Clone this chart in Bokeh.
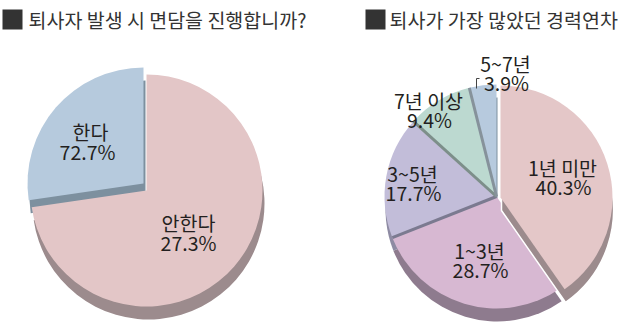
import numpy as np
from bokeh.plotting import figure
from bokeh.models import Range1d
from bokeh.core.properties import value
from bokeh.embed import file_html
from bokeh.resources import INLINE

# ---------------- data ----------------
left_title = "퇴사자 발생 시 면담을 진행합니까?"
left_categories = ["한다", "안한다"]
left_pct_labels = ["72.7%", "27.3%"]
left_shares = [27.3, 72.7]          # slice sizes as drawn in the picture

right_title = "퇴사가 가장 많았던 경력연차"
right_categories = ["1년 미만", "1~3년", "3~5년", "7년 이상", "5~7년"]
right_shares = [40.3, 28.7, 17.7, 9.4, 3.9]
right_pct_labels = ["40.3%", "28.7%", "17.7%", "9.4%", "3.9%"]

# ---------------- styles / layout ----------------
W, H = 640, 323
FONT = value("Noto Sans CJK KR")
TXT = "#231f20"

left_colors = ["#b6cadd", "#e3c6c7"]
left_shadows = ["#7d909f", "#9c8b8d"]
right_colors = ["#e4c7c8", "#d7b8d2", "#c2bdd9", "#bcd9d0", "#b7cade"]
right_shadows = ["#9c8b8d", "#8e7b8e", "#8e8ba3", "#82958f", "#7d909f"]


def Y(py):
    return H - py


p = figure(width=W, height=H, x_range=Range1d(0, W), y_range=Range1d(0, H),
           output_backend="svg", toolbar_location=None,
           x_axis_type=None, y_axis_type=None, min_border=0)
p.grid.visible = False
p.outline_line_color = None
p.background_fill_color = "white"
p.border_fill_color = "white"

SHX, SHY = 2, 13   # 3D depth offset (pixels: right, down)

# ---------------- left pie ----------------
lc = (146, 190)
lr = 116
l_explode = [(-3, -7), (0, 0)]
cum = np.concatenate([[0], np.cumsum(left_shares)])
l_start = [90 + cum[i] * 3.6 for i in range(len(left_shares))]
l_end = [90 + cum[i + 1] * 3.6 for i in range(len(left_shares))]

for i in range(len(left_shares)):
    cx = lc[0] + l_explode[i][0] + SHX
    cy = Y(lc[1] + l_explode[i][1] + SHY)
    p.wedge(x=cx, y=cy, radius=lr, start_angle=l_start[i], end_angle=l_end[i],
            start_angle_units="deg", end_angle_units="deg", direction="anticlock",
            fill_color=left_shadows[i], line_color=None)
for i in range(len(left_shares)):
    cx = lc[0] + l_explode[i][0]
    cy = Y(lc[1] + l_explode[i][1])
    p.wedge(x=cx, y=cy, radius=lr, start_angle=l_start[i], end_angle=l_end[i],
            start_angle_units="deg", end_angle_units="deg", direction="anticlock",
            fill_color=left_colors[i], line_color=None)

left_label_pos = [(90, 131), (188, 222)]
for i in range(len(left_categories)):
    x, y = left_label_pos[i]
    p.text(x=[x, x - 3 if i == 0 else x], y=[Y(y), Y(y + 20)],
           text=[left_categories[i], left_pct_labels[i]],
           text_font=FONT, text_font_size="19.5px", text_color=TXT,
           text_align="center", text_baseline="middle")

# ---------------- right pie ----------------
rc = (496, 196)
rr = 112
r_explode = [(4, 1), (0, 0), (0, 0), (0, 0), (0, 0)]
cum = np.concatenate([[0], np.cumsum(right_shares)])
r_start = [90 - cum[i + 1] * 3.6 for i in range(len(right_shares))]
r_end = [90 - cum[i] * 3.6 for i in range(len(right_shares))]


def rwedge(i, shadow):
    dx, dy = r_explode[i]
    if shadow:
        cx, cy = rc[0] + dx + SHX - 1, Y(rc[1] + dy + SHY)
        col = right_shadows[i]
    else:
        cx, cy = rc[0] + dx, Y(rc[1] + dy)
        col = right_colors[i]
    kw = dict(line_color=None)
    if shadow and r_explode[i] != (0, 0):
        kw = dict(line_color="white", line_width=1.5)
    p.wedge(x=cx, y=cy, radius=rr, start_angle=r_start[i], end_angle=r_end[i],
            start_angle_units="deg", end_angle_units="deg", direction="anticlock",
            fill_color=col, **kw)


rest = [i for i in range(len(right_shares)) if r_explode[i] == (0, 0)]
expl = [i for i in range(len(right_shares)) if r_explode[i] != (0, 0)]
for i in rest:
    rwedge(i, True)
for i in rest:
    rwedge(i, False)

# separators between adjacent non-exploded slices
sep_colors = ["#7b7a90", "#7d8f8a", "#86929b"]
for k, i in enumerate(range(1, len(right_shares) - 1)):
    ang = np.deg2rad(r_start[i])
    p.segment(x0=rc[0], y0=Y(rc[1]), x1=rc[0] + rr * np.cos(ang),
              y1=Y(rc[1]) + rr * np.sin(ang), line_color=sep_colors[k], line_width=3)

for i in expl:
    rwedge(i, True)
    rwedge(i, False)

right_label_pos = [(562, 167), (479, 250), (412, 173), (428, 100), (505, 63)]
for i in range(len(right_categories)):
    x, y = right_label_pos[i]
    p.text(x=[x, x + 1], y=[Y(y), Y(y + 19)],
           text=[right_categories[i], right_pct_labels[i]],
           text_font=FONT, text_font_size="19.5px", text_color=TXT,
           text_align="center", text_baseline="middle")

# tiny leader for the smallest slice label
lx, ly = right_label_pos[4]
p.line(x=[lx - 29, lx - 29, lx - 26], y=[Y(ly + 25), Y(ly + 15), Y(ly + 15)],
       line_color="#444444", line_width=1)

# ---------------- titles ----------------
for sq_x, tx, title in [(12, 28, left_title), (375, 389, right_title)]:
    p.rect(x=sq_x, y=Y(19), width=20, height=20, fill_color="#333333", line_color=None)
    p.text(x=[tx], y=[Y(19)], text=[title], text_font=FONT, text_font_size="19.5px",
           text_color="#333333", text_align="left", text_baseline="middle")

open("out.html", "w").write(file_html(p, INLINE))
